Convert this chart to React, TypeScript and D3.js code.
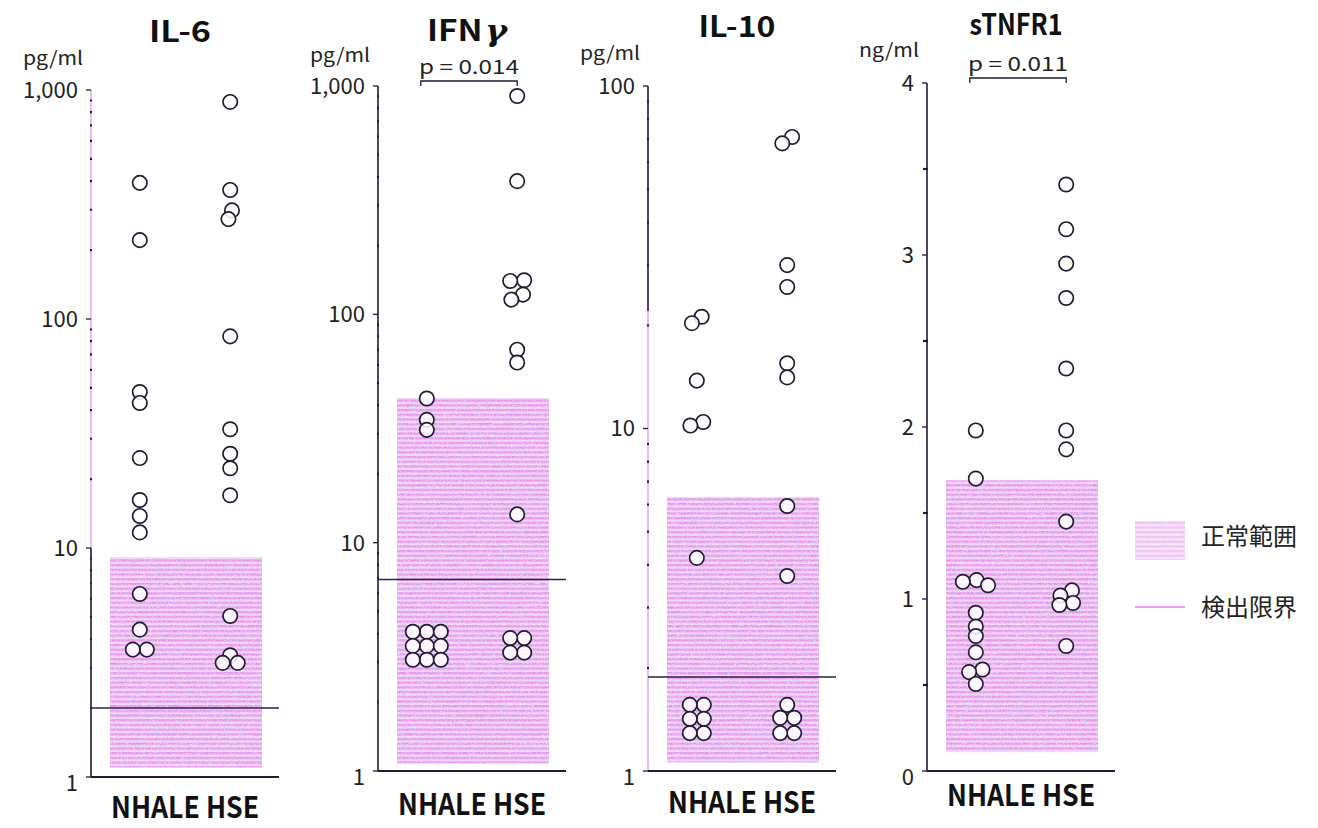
import React, { useEffect, useRef } from "react";
import * as d3 from "d3";

// ---- data -------------------------------------------------------------
const groups = ["NHALE", "HSE"];

// IL-6 (pg/ml)
const il6Nhale = [393, 221, 48, 43, 24.7, 16.2, 13.8, 11.7, 6.3, 4.4, 3.6, 3.6];
const il6Hse = [887, 366, 298, 273, 84, 33, 25.8, 22.3, 17, 5.05, 3.4, 3.15, 3.15];
const il6Normal = [1.1, 9.1];
const il6Detection = 2.0;

// IFN-gamma (pg/ml)
const ifnNhale = [42.8, 34.5, 31.2, 4.07, 4.07, 4.07, 3.53, 3.53, 3.53, 3.07, 3.07, 3.07];
const ifnHse = [904, 383, 141, 140, 122, 116, 70, 61.5, 13.3, 3.82, 3.82, 3.3, 3.3];
const ifnNormal = [1.08, 43];
const ifnDetection = 6.9;
const ifnP = "p = 0.014";

// IL-10 (pg/ml)
const il10Nhale = [21.2, 20.3, 13.8, 10.45, 10.2, 4.19, 1.56, 1.56, 1.42, 1.42, 1.29, 1.29];
const il10Hse = [71, 68, 30, 25.9, 15.5, 14.1, 5.94, 3.71, 1.56, 1.43, 1.43, 1.29, 1.29];
const il10Normal = [1.06, 6.3];
const il10Detection = 1.88;

// sTNFR1 (ng/ml)
const tnfNhale = [1.98, 1.7, 1.11, 1.1, 1.08, 0.92, 0.84, 0.785, 0.69, 0.59, 0.575, 0.506];
const tnfHse = [3.41, 3.15, 2.95, 2.75, 2.34, 1.98, 1.87, 1.45, 1.05, 1.02, 0.977, 0.965, 0.727];
const tnfNormal = [0.11, 1.69];
const tnfP = "p = 0.011";

const legendLabels = ["正常範囲", "検出限界"];

type Panel = {
  title: string;
  unit: string;
  log: boolean;
  domain: [number, number];
  series: number[][];
  normal: number[];
  detection: number | null;
  p: string | null;
  pale: [number, number] | null; // value span where the axis line prints faint
};

const panels: Panel[] = [
  { title: "IL-6", unit: "pg/ml", log: true, domain: [1, 1000], series: [il6Nhale, il6Hse], normal: il6Normal, detection: il6Detection, p: null, pale: [10, 1000] },
  { title: "IFN", unit: "pg/ml", log: true, domain: [1, 1000], series: [ifnNhale, ifnHse], normal: ifnNormal, detection: ifnDetection, p: ifnP, pale: null },
  { title: "IL-10", unit: "pg/ml", log: true, domain: [1, 100], series: [il10Nhale, il10Hse], normal: il10Normal, detection: il10Detection, p: null, pale: [1, 22] },
  { title: "sTNFR1", unit: "ng/ml", log: false, domain: [0, 4], series: [tnfNhale, tnfHse], normal: tnfNormal, detection: null, p: tnfP, pale: null },
];

// ---- layout -----------------------------------------------------------
const W = 1318;
const H = 828;
const FONT = "'Noto Sans CJK JP', 'Noto Sans', sans-serif";
const INK = "#1f1c33";
const PALE = "#e3a3e8";
const R = 7.2;

const layout = [
  { x: 91, top: 90, bottom: 777, titleW: 62, titleY: 42, unitY: 65, labelY: 818 },
  { x: 378, top: 86, bottom: 771, titleW: 80, titleY: 41, unitY: 62, labelY: 815 },
  { x: 648, top: 86, bottom: 771, titleW: 77, titleY: 37, unitY: 60, labelY: 813 },
  { x: 927, top: 83, bottom: 771, titleW: 93, titleY: 35, unitY: 57, labelY: 806 },
];
const PANEL_W = 188;

// Horizontal offsets for a dot plot: marks that would overlap are pushed
// sideways, then each touching cluster is centred on the group line.
function dodge(ys: number[], w = 14, h = 9): number[] {
  const n = ys.length;
  const xs = new Array(n).fill(0);
  const order = d3.range(n).sort((a, b) => ys[a] - ys[b] || a - b);
  const placed: number[] = [];
  const hit = (i: number, x: number) =>
    placed.some((j) => {
      const dx = (x - xs[j]) / w;
      const dy = (ys[i] - ys[j]) / h;
      return dx * dx + dy * dy < 1 - 1e-6;
    });
  for (const i of order) {
    const cands = [0];
    for (const j of placed) {
      const dy = Math.abs(ys[i] - ys[j]);
      if (dy < h) {
        const d = w * Math.sqrt(1 - (dy / h) ** 2);
        cands.push(xs[j] - d, xs[j] + d);
      }
    }
    cands.sort((a, b) => Math.abs(a) - Math.abs(b) || a - b);
    xs[i] = cands.find((x) => !hit(i, x)) ?? 0;
    placed.push(i);
  }
  const parent = d3.range(n);
  const find = (a: number): number => (parent[a] === a ? a : (parent[a] = find(parent[a])));
  for (let a = 0; a < n; a++)
    for (let b = a + 1; b < n; b++) {
      const dx = (xs[a] - xs[b]) / w;
      const dy = (ys[a] - ys[b]) / h;
      if (dx * dx + dy * dy <= 1 + 1e-3) parent[find(a)] = find(b);
    }
  const sums = new Map<number, [number, number]>();
  for (let i = 0; i < n; i++) {
    const r = find(i);
    const s = sums.get(r) ?? [0, 0];
    s[0] += xs[i];
    s[1] += 1;
    sums.set(r, s);
  }
  return xs.map((x, i) => {
    const s = sums.get(find(i))!;
    return x - s[0] / s[1];
  });
}

export default function App() {
  const ref = useRef<SVGSVGElement>(null);

  useEffect(() => {
    const svg = d3.select(ref.current);
    svg.selectAll("*").remove();

    const defs = svg.append("defs");
    const pat = defs
      .append("pattern")
      .attr("id", "normStripe")
      .attr("patternUnits", "userSpaceOnUse")
      .attr("width", 8)
      .attr("height", 4.7);
    pat.append("rect").attr("width", 8).attr("height", 4.7).attr("fill", "#f5d4f6");
    pat.append("rect").attr("width", 8).attr("height", 2.4).attr("fill", "#e788e8").attr("opacity", 0.9);

    // print grain: bluish and white flecks over the striped band
    const grain = defs.append("filter").attr("id", "grain").attr("x", 0).attr("y", 0).attr("width", 1).attr("height", 1);
    grain
      .append("feTurbulence")
      .attr("type", "fractalNoise")
      .attr("baseFrequency", "0.55 1.6")
      .attr("numOctaves", 2)
      .attr("seed", 4)
      .attr("result", "n");
    grain
      .append("feColorMatrix")
      .attr("in", "n")
      .attr("type", "matrix")
      .attr("values", "0 0 0 0 0.66  0 0 0 0 0.62  0 0 0 0 0.97  3.2 0 0 0 -1.45")
      .attr("result", "c");
    grain.append("feComposite").attr("in", "c").attr("in2", "SourceGraphic").attr("operator", "in");

    const grain2 = defs.append("filter").attr("id", "grain2").attr("x", 0).attr("y", 0).attr("width", 1).attr("height", 1);
    grain2
      .append("feTurbulence")
      .attr("type", "fractalNoise")
      .attr("baseFrequency", "0.7 1.9")
      .attr("numOctaves", 1)
      .attr("seed", 11)
      .attr("result", "n");
    grain2
      .append("feColorMatrix")
      .attr("in", "n")
      .attr("type", "matrix")
      .attr("values", "0 0 0 0 1  0 0 0 0 1  0 0 0 0 1  0 3.2 0 0 -1.5")
      .attr("result", "c");
    grain2.append("feComposite").attr("in", "c").attr("in2", "SourceGraphic").attr("operator", "in");

    const shade = (g: d3.Selection<SVGGElement, unknown, null, undefined>, x: number, y: number, w: number, h: number, op = 1) => {
      g.append("rect").attr("x", x).attr("y", y).attr("width", w).attr("height", h).attr("fill", "url(#normStripe)").attr("opacity", op);
      g.append("rect").attr("x", x).attr("y", y).attr("width", w).attr("height", h).attr("fill", "#fff").attr("filter", "url(#grain)").attr("opacity", 0.8 * op);
      g.append("rect").attr("x", x).attr("y", y).attr("width", w).attr("height", h).attr("fill", "#fff").attr("filter", "url(#grain2)").attr("opacity", 0.45 * op);
    };

    panels.forEach((p, pi) => {
      const L = layout[pi];
      const g = svg.append("g");
      const y = p.log
        ? d3.scaleLog().domain(p.domain).range([L.bottom, L.top])
        : d3.scaleLinear().domain(p.domain).range([L.bottom, L.top]);
      const xg = d3.scalePoint<string>().domain(groups).range([L.x, L.x + PANEL_W]).padding(0.54);

      // normal range band
      shade(g, L.x + 19, y(p.normal[1]), 152, y(p.normal[0]) - y(p.normal[1]));

      // axis line, with faint print where noted
      const y0 = p.domain[0];
      const y1 = p.domain[1];
      g.append("line").attr("x1", L.x).attr("x2", L.x).attr("y1", y(y0)).attr("y2", y(y1)).attr("stroke", INK).attr("stroke-width", 1.6);
      if (p.pale) {
        g.append("line")
          .attr("x1", L.x)
          .attr("x2", L.x)
          .attr("y1", y(p.pale[0]))
          .attr("y2", y(p.pale[1]))
          .attr("stroke", "#fff")
          .attr("stroke-width", 3);
        g.append("line")
          .attr("x1", L.x)
          .attr("x2", L.x)
          .attr("y1", y(p.pale[0]))
          .attr("y2", y(p.pale[1]))
          .attr("stroke", PALE)
          .attr("stroke-width", 1.4);
      }

      // ticks
      let major: number[];
      let minor: number[];
      if (p.log) {
        const all = (y as d3.ScaleLogarithmic<number, number>).ticks();
        major = all.filter((v) => Math.abs(Math.log10(v) - Math.round(Math.log10(v))) < 1e-9);
        minor = all.filter((v) => !major.includes(v));
      } else {
        major = d3.range(0, 4.001, 1);
        minor = d3.range(0.5, 4, 1);
      }
      const fmt = p.log ? d3.format(",") : d3.format("d");
      g.selectAll(".maj")
        .data(major)
        .join("line")
        .attr("x1", L.x - 5)
        .attr("x2", L.x)
        .attr("y1", (d) => y(d))
        .attr("y2", (d) => y(d))
        .attr("stroke", INK)
        .attr("stroke-width", 1.3);
      g.selectAll(".min")
        .data(minor)
        .join("line")
        .attr("x1", p.log ? L.x - 1 : L.x - 4)
        .attr("x2", L.x + 1)
        .attr("y1", (d) => y(d))
        .attr("y2", (d) => y(d))
        .attr("stroke", INK)
        .attr("stroke-width", 2.2);
      g.selectAll(".lab")
        .data(major)
        .join("text")
        .attr("x", L.x - 13)
        .attr("y", (d) => y(d) + (d === y0 ? 6 : 0))
        .attr("dy", "0.36em")
        .attr("text-anchor", "end")
        .attr("font-family", FONT)
        .attr("font-size", 22)
        .attr("fill", "#222")
        .text((d) => fmt(d));

      // baseline and detection limit
      g.append("line").attr("x1", L.x).attr("x2", L.x + PANEL_W).attr("y1", y(y0)).attr("y2", y(y0)).attr("stroke", INK).attr("stroke-width", 1.8);
      if (p.detection !== null) {
        g.append("line")
          .attr("x1", L.x)
          .attr("x2", L.x + PANEL_W)
          .attr("y1", y(p.detection))
          .attr("y2", y(p.detection))
          .attr("stroke", "#2a2150")
          .attr("stroke-width", 1.5);
      }

      // points
      groups.forEach((grp, gi) => {
        const vals = p.series[gi];
        const ys = vals.map((v) => y(v));
        const off = dodge(ys);
        g.append("g")
          .selectAll("circle")
          .data(vals)
          .join("circle")
          .attr("cx", (_, i) => (xg(grp) as number) + off[i])
          .attr("cy", (_, i) => ys[i])
          .attr("r", R)
          .attr("fill", "#fff")
          .attr("fill-opacity", 0.85)
          .attr("stroke", INK)
          .attr("stroke-width", 1.7);
      });

      // title
      const t = g
        .append("text")
        .attr("x", L.x + 89)
        .attr("y", L.titleY)
        .attr("text-anchor", "middle")
        .attr("font-family", FONT)
        .attr("font-weight", 700)
        .attr("font-size", 29)
        .attr("fill", "#111")
        .attr("textLength", L.titleW)
        .attr("lengthAdjust", "spacingAndGlyphs");
      if (p.title === "IFN") {
        t.append("tspan").text("IFN");
        t.append("tspan").attr("font-family", "'DejaVu Serif', serif").attr("font-style", "italic").attr("dx", 2).text("γ");
      } else {
        t.text(p.title);
      }

      // unit
      g.append("text")
        .attr("x", L.x - 8)
        .attr("y", L.unitY)
        .attr("text-anchor", "end")
        .attr("font-family", FONT)
        .attr("font-size", 19)
        .attr("fill", "#222")
        .attr("textLength", 60)
        .attr("lengthAdjust", "spacingAndGlyphs")
        .text(p.unit);

      // significance bracket
      if (p.p) {
        const bx1 = (xg("NHALE") as number) - 6;
        const bx2 = (xg("HSE") as number);
        const by = L.top - 5;
        g.append("path")
          .attr("d", `M${bx1},${by + 5}V${by}H${bx2}V${by + 5}`)
          .attr("fill", "none")
          .attr("stroke", INK)
          .attr("stroke-width", 1.3);
        g.append("text")
          .attr("x", (bx1 + bx2) / 2)
          .attr("y", by - 7)
          .attr("text-anchor", "middle")
          .attr("font-family", FONT)
          .attr("font-size", 19)
          .attr("fill", "#222")
          .attr("textLength", 100)
          .attr("lengthAdjust", "spacingAndGlyphs")
          .text(p.p);
      }

      // group labels
      g.append("text")
        .attr("x", ((xg("NHALE") as number) + (xg("HSE") as number)) / 2)
        .attr("y", L.labelY)
        .attr("text-anchor", "middle")
        .attr("font-family", FONT)
        .attr("font-weight", 700)
        .attr("font-size", 30)
        .attr("fill", "#111")
        .attr("textLength", 148)
        .attr("lengthAdjust", "spacingAndGlyphs")
        .text(groups.join(" "));
    });

    // legend
    const lg = svg.append("g");
    shade(lg, 1135, 521, 50, 39, 0.55);
    lg.append("line").attr("x1", 1135).attr("x2", 1185).attr("y1", 607).attr("y2", 607).attr("stroke", "#e27fe4").attr("stroke-width", 1.6);
    lg.selectAll(".leg")
      .data(legendLabels)
      .join("text")
      .attr("x", 1201)
      .attr("y", (_, i) => (i === 0 ? 536 : 607))
      .attr("dy", "0.36em")
      .attr("font-family", FONT)
      .attr("font-size", 24)
      .attr("fill", "#222")
      .text((d) => d);
  }, []);

  return (
    <svg
      ref={ref}
      width={W}
      height={H}
      viewBox={`0 0 ${W} ${H}`}
      style={{ position: "absolute", left: 0, top: 0, background: "#fff" }}
    />
  );
}
